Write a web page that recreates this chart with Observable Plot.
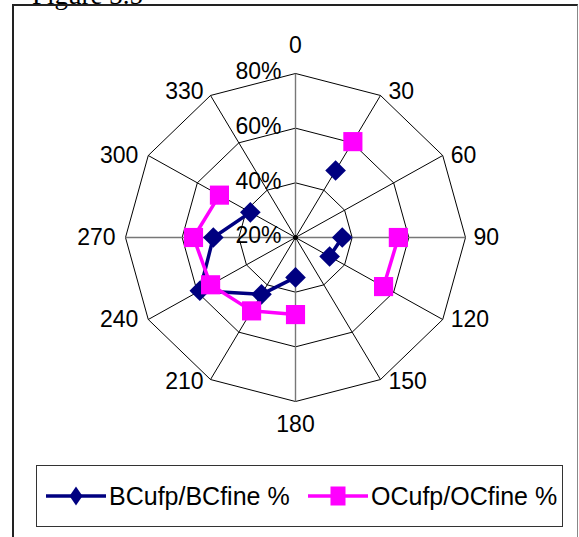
<!DOCTYPE html>
<html>
<head>
<meta charset="utf-8">
<script src="https://cdn.jsdelivr.net/npm/d3@7"></script>
<script src="https://cdn.jsdelivr.net/npm/@observablehq/plot@0.6"></script>
<style>
  html, body { margin: 0; padding: 0; background: #fff; }
  #page { position: relative; width: 579px; height: 537px; overflow: hidden; background: #fff; }
  #title { position: absolute; left: 32px; top: -18px; font: 27px/27px "Liberation Serif", "Times New Roman", serif; color: #000; white-space: nowrap; }
  #frame { position: absolute; left: 12px; top: 4px; width: 563px; height: 700px; border-left: 2px solid #222; border-top: 2px solid #222; border-right: 1px solid #888; }
  #chart { position: absolute; left: 0; top: 0; }
  #legend { position: absolute; left: 36px; top: 465px; width: 527px; height: 62px; box-sizing: border-box; border: 1px solid #333; background: #fff; font: 25px "Liberation Sans", Arial, sans-serif; color: #000; }
  .item { position: absolute; top: 0; height: 60px; display: flex; align-items: center; white-space: nowrap; }
  .item svg { display: block; }
</style>
</head>
<body>
<div id="page">
  <div id="title">Figure 3.5</div>
  <div id="frame"></div>
  <div id="chart"></div>
  <div id="legend"></div>
</div>
<script>
// ---- data ----
const angles = [0, 30, 60, 90, 120, 150, 180, 210, 240, 270, 300, 330];
const categoryLabels = ["0", "30", "60", "90", "120", "150", "180", "210", "240", "270", "300", "330"];
const bcValues = [null, 48.3, null, 36.5, 33.9, null, 34.6, 44, 59, 49, 38.4, null];
const ocValues = [null, 60.5, null, 56.3, 55.9, null, 48.2, 51, 54.6, 56, 51, null];
const tickValues = [20, 40, 60, 80];
const tickLabels = ["20%", "40%", "60%", "80%"];
const seriesNames = ["BCufp/BCfine %", "OCufp/OCfine %"];
const seriesColors = ["#000080", "#FF00FF"];

// ---- geometry ----
const W = 579, H = 460, CX = 295, CY = 237, RX = 170, RY = 164;
const VMIN = 20, VMAX = 80, SPAN = VMAX - VMIN;
const rad = a => a * Math.PI / 180;
const px2x = p => p * SPAN / RX;   // pixel offset -> data units (x)
const px2y = p => p * SPAN / RY;   // pixel offset -> data units (y)
const polar = (v, a) => ({ x: (v - VMIN) * Math.sin(rad(a)), y: (v - VMIN) * Math.cos(rad(a)) });

// rings
const ringPts = [];
tickValues.filter(v => v > VMIN).forEach(v => {
  angles.concat([angles[0]]).forEach(a => ringPts.push({ ring: v, ...polar(v, a) }));
});
// spokes
const spokes = angles.map(a => ({ a, ...polar(VMAX, a) }));
const straight = spokes.filter(s => s.a % 90 === 0);
const diag = spokes.filter(s => s.a % 90 !== 0);

// category labels with offsets
const catData = angles.map((a, i) => {
  const p = polar(VMAX, a);
  const s = Math.sin(rad(a)), c = Math.cos(rad(a));
  let dx = 0, dy = 0, anchor = "middle";
  if (s > 0.1) { dx = 8; anchor = "start"; }
  else if (s < -0.1) { dx = (Math.abs(s) > 0.8 ? -10 : -7); anchor = "end"; }
  if (c > 0.99) dy = -28;
  else if (c < -0.99) dy = 23;
  else if (c > 0.8) dy = -4;
  else if (c < -0.8) dy = 2;
  return { label: categoryLabels[i], anchor, x: p.x + px2x(dx), y: p.y - px2y(dy) };
});

// tick labels
const tickData = tickValues.map((v, i) => ({ label: tickLabels[i], x: -px2x(14), y: (v - VMIN) + px2y(1.5) }));

// series
const mk = vals => angles.map((a, i) => {
  const v = vals[i];
  if (v == null) return { x: NaN, y: NaN };
  return polar(v, a);
});
const bc = mk(bcValues), oc = mk(ocValues);

const font = { fontSize: 23, fontFamily: "Liberation Sans, Arial, sans-serif", fill: "#000", lineAnchor: "middle" };

const plot = Plot.plot({
  width: W, height: H,
  marginTop: 0, marginRight: 0, marginBottom: 0, marginLeft: 0,
  style: { background: "transparent", overflow: "visible", fontFamily: "Liberation Sans, Arial, sans-serif" },
  x: { domain: [-px2x(CX), px2x(W - CX)], range: [0, W], axis: null },
  y: { domain: [-px2y(H - CY), px2y(CY)], range: [H, 0], axis: null },
  marks: [
    Plot.line(ringPts, { x: "x", y: "y", z: "ring", stroke: "#000", strokeWidth: 1 }),
    Plot.link(diag, { x1: d => 0, y1: d => 0, x2: "x", y2: "y", stroke: "#000", strokeWidth: 1 }),
    Plot.link(straight, { x1: d => 0, y1: d => 0, x2: "x", y2: "y", stroke: "#777", strokeWidth: 1.4 }),
    Plot.dot([{ x: 0, y: 0 }], { x: "x", y: "y", r: 2.5, fill: "#000" }),
    Plot.text(tickData, { x: "x", y: "y", text: "label", textAnchor: "end", ...font }),
    Plot.text(catData.filter(d => d.anchor === "start"), { x: "x", y: "y", text: "label", textAnchor: "start", ...font }),
    Plot.text(catData.filter(d => d.anchor === "end"), { x: "x", y: "y", text: "label", textAnchor: "end", ...font }),
    Plot.text(catData.filter(d => d.anchor === "middle"), { x: "x", y: "y", text: "label", textAnchor: "middle", ...font }),
    Plot.line(bc, { x: "x", y: "y", stroke: seriesColors[0], strokeWidth: 3.5 }),
    Plot.dot(bc.filter(d => !isNaN(d.x)), { x: "x", y: "y", symbol: "diamond2", r: 9.3, fill: seriesColors[0] }),
    Plot.line(oc, { x: "x", y: "y", stroke: seriesColors[1], strokeWidth: 3.5 }),
    Plot.dot(oc.filter(d => !isNaN(d.x)), { x: "x", y: "y", symbol: "square", r: 10.8, fill: seriesColors[1] })
  ]
});
document.getElementById("chart").appendChild(plot);

// legend
const legend = document.getElementById("legend");
const items = [
  { left: 9, lineW: 60, shape: "diamond" },
  { left: 271, lineW: 60, shape: "square" }
];
items.forEach((it, i) => {
  const div = document.createElement("div");
  div.className = "item";
  div.style.left = it.left + "px";
  const ns = "http://www.w3.org/2000/svg";
  const svg = document.createElementNS(ns, "svg");
  svg.setAttribute("width", it.lineW); svg.setAttribute("height", 24);
  const ln = document.createElementNS(ns, "line");
  ln.setAttribute("x1", 0); ln.setAttribute("x2", it.lineW); ln.setAttribute("y1", 12); ln.setAttribute("y2", 12);
  ln.setAttribute("stroke", seriesColors[i]); ln.setAttribute("stroke-width", 3.5);
  svg.appendChild(ln);
  const m = it.lineW / 2;
  if (it.shape === "diamond") {
    const pg = document.createElementNS(ns, "polygon");
    pg.setAttribute("points", `${m},2.5 ${m + 6.5},12 ${m},21.5 ${m - 6.5},12`);
    pg.setAttribute("fill", seriesColors[i]);
    svg.appendChild(pg);
  } else {
    const r = document.createElementNS(ns, "rect");
    r.setAttribute("x", m - 7.5); r.setAttribute("y", 2.5); r.setAttribute("width", 15); r.setAttribute("height", 19);
    r.setAttribute("fill", seriesColors[i]);
    svg.appendChild(r);
  }
  div.appendChild(svg);
  const sp = document.createElement("span");
  sp.textContent = seriesNames[i];
  sp.style.marginLeft = "3px";
  div.appendChild(sp);
  legend.appendChild(div);
});
</script>
</body>
</html>
